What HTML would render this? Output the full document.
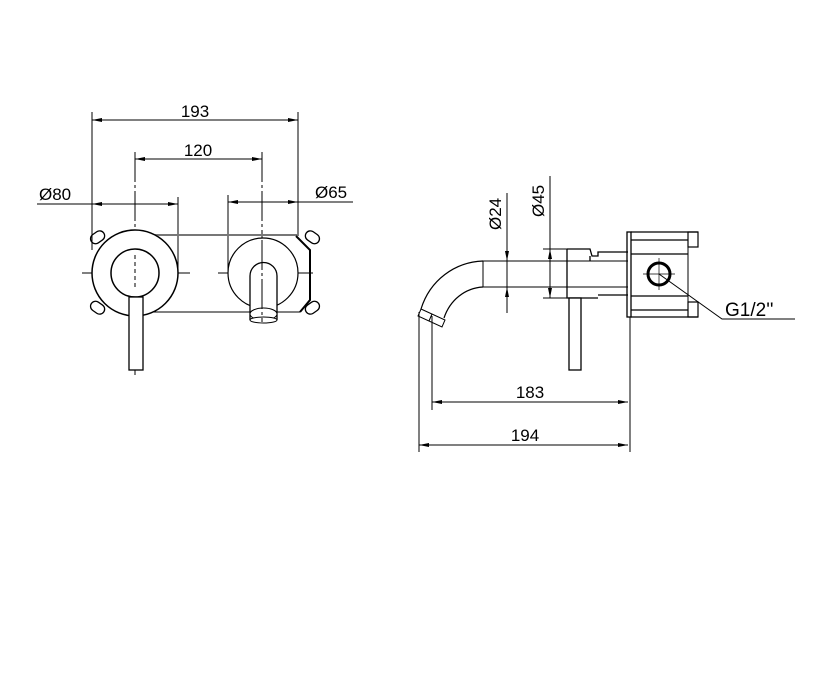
<!DOCTYPE html>
<html><head><style>body{margin:0;background:#fff}svg{display:block}text{font-family:"Liberation Sans",sans-serif;font-size:17px;fill:#000}</style></head><body>
<svg width="821" height="686" viewBox="0 0 821 686">
<defs><marker id="a" viewBox="0 0 10 6" refX="10" refY="3" markerWidth="10" markerHeight="6" orient="auto-start-reverse" markerUnits="userSpaceOnUse"><path d="M0,1 L10,3 L0,5z" fill="#000"/></marker></defs>
<g stroke="#000" stroke-width="1" fill="none">
<line x1="92" y1="112" x2="92" y2="250"/><line x1="298" y1="112" x2="298" y2="236"/>
<line x1="92" y1="120" x2="298" y2="120" marker-start="url(#a)" marker-end="url(#a)"/>
<line x1="135" y1="152" x2="135" y2="375" stroke-dasharray="30,3,3,3"/><line x1="262" y1="152" x2="262" y2="322" stroke-dasharray="30,3,3,3"/>
<line x1="135" y1="159" x2="262" y2="159" marker-start="url(#a)" marker-end="url(#a)"/>
<line x1="37" y1="204" x2="178" y2="204"/><line x1="92" y1="204" x2="178" y2="204" marker-start="url(#a)" marker-end="url(#a)"/>
<line x1="178" y1="197" x2="178" y2="275"/>
<line x1="228" y1="195" x2="228" y2="275"/>
<line x1="228" y1="202" x2="353" y2="202"/><line x1="228" y1="202" x2="298" y2="202" marker-start="url(#a)" marker-end="url(#a)"/>
<line x1="82" y1="273" x2="190" y2="273" stroke-dasharray="30,3,3,3"/><line x1="218" y1="273" x2="313" y2="273" stroke-dasharray="30,3,3,3"/>
<line x1="135" y1="235" x2="298" y2="235" stroke="#777" stroke-width="2"/>
<line x1="135" y1="312" x2="300" y2="312"/>
<path d="M296,236 L310,250 L310,300 L300,312" stroke-width="2"/>
<circle cx="135" cy="273" r="43" fill="#fff" stroke-width="1.5"/>
<circle cx="135" cy="273" r="24" stroke-width="1.5"/>
<circle cx="263" cy="273" r="35" fill="#fff" stroke-width="1.2"/>
<g stroke-width="1.3">
<rect x="90" y="232" width="15" height="10" rx="5" transform="rotate(-35 98 237)"/>
<rect x="90" y="303" width="15" height="10" rx="5" transform="rotate(35 98 308)"/>
<rect x="305" y="232" width="15" height="10" rx="5" transform="rotate(35 312 237)"/>
<rect x="305" y="303" width="15" height="10" rx="5" transform="rotate(-35 312 308)"/>
</g>
<rect x="129" y="297" width="14" height="73" fill="#fff" stroke-width="1.3"/>
<path d="M250,320 L250,276 A13.5,13.5 0 0 1 277,276 L277,320" fill="#fff" stroke-width="1.3"/>
<ellipse cx="263.5" cy="314" rx="13.5" ry="6" fill="#fff"/><ellipse cx="263.5" cy="320" rx="13.5" ry="3" fill="#fff"/>
<line x1="135" y1="255" x2="135" y2="290" stroke-dasharray="4,3"/><line x1="262" y1="240" x2="262" y2="322" stroke-dasharray="30,3,3,3"/>
<line x1="507" y1="193" x2="507" y2="313"/>
<line x1="507" y1="245" x2="507" y2="261" marker-end="url(#a)"/><line x1="507" y1="303" x2="507" y2="287" marker-end="url(#a)"/>
<line x1="550" y1="176" x2="550" y2="298"/>
<line x1="550" y1="262" x2="550" y2="249" marker-end="url(#a)"/><line x1="550" y1="285" x2="550" y2="298" marker-end="url(#a)"/>
<line x1="543" y1="249" x2="567" y2="249"/><line x1="543" y1="298" x2="567" y2="298"/>
<path d="M483,261 L628,261 M483,287 L628,287 M483,261 L483,287"/>
<path d="M483,261 C455,262 430,280 421,309" stroke-width="1.2"/>
<path d="M483,287 C465,288 450,300 444,318" stroke-width="1.2"/>
<path d="M421,309 L445,320 L442,327 L418,316 Z M432,314 L429,321"/>
<path d="M567,249 L590,249 L592,256 L598,256 L598,252 L628,252 M567,249 L567,298 L598,298 M598,295 L628,295 M590,261 L590,256" stroke-width="1.3"/>
<rect x="627" y="232" width="4" height="85" stroke-width="1.3"/>
<path d="M631,232 L698,232 M631,317 L698,317 M631,240 L688,240 M631,254 L688,254 M631,296 L688,296 M631,310 L688,310" stroke-width="1.2"/>
<rect x="688" y="232" width="10" height="15" stroke-width="1.2"/><rect x="688" y="302" width="10" height="15" stroke-width="1.2"/>
<path d="M688,247 L688,302"/>
<circle cx="659" cy="274" r="11" stroke-width="3"/>
<line x1="643" y1="274" x2="675" y2="274" stroke-width="0.7"/><line x1="659" y1="258" x2="659" y2="290" stroke-width="0.7"/>
<path d="M659,274 L722,319 L795,319"/>
<rect x="569" y="298" width="12" height="72" fill="#fff" stroke-width="1.3"/>
<line x1="432" y1="316" x2="432" y2="410"/><line x1="419" y1="312" x2="419" y2="452"/><line x1="630" y1="317" x2="630" y2="452"/>
<line x1="432" y1="402" x2="628" y2="402" marker-start="url(#a)" marker-end="url(#a)"/>
<line x1="419" y1="445" x2="628" y2="445" marker-start="url(#a)" marker-end="url(#a)"/>
</g>
<text x="195" y="117" text-anchor="middle">193</text>
<text x="198" y="156" text-anchor="middle">120</text>
<text x="39" y="200">Ø80</text>
<text x="315" y="198">Ø65</text>
<text x="530" y="398" text-anchor="middle">183</text>
<text x="525" y="441" text-anchor="middle">194</text>
<text x="725" y="316" style="font-size:19px">G1/2''</text>
<text transform="translate(501,230) rotate(-90)">Ø24</text>
<text transform="translate(544,217) rotate(-90)">Ø45</text>
</svg>
</body></html>
